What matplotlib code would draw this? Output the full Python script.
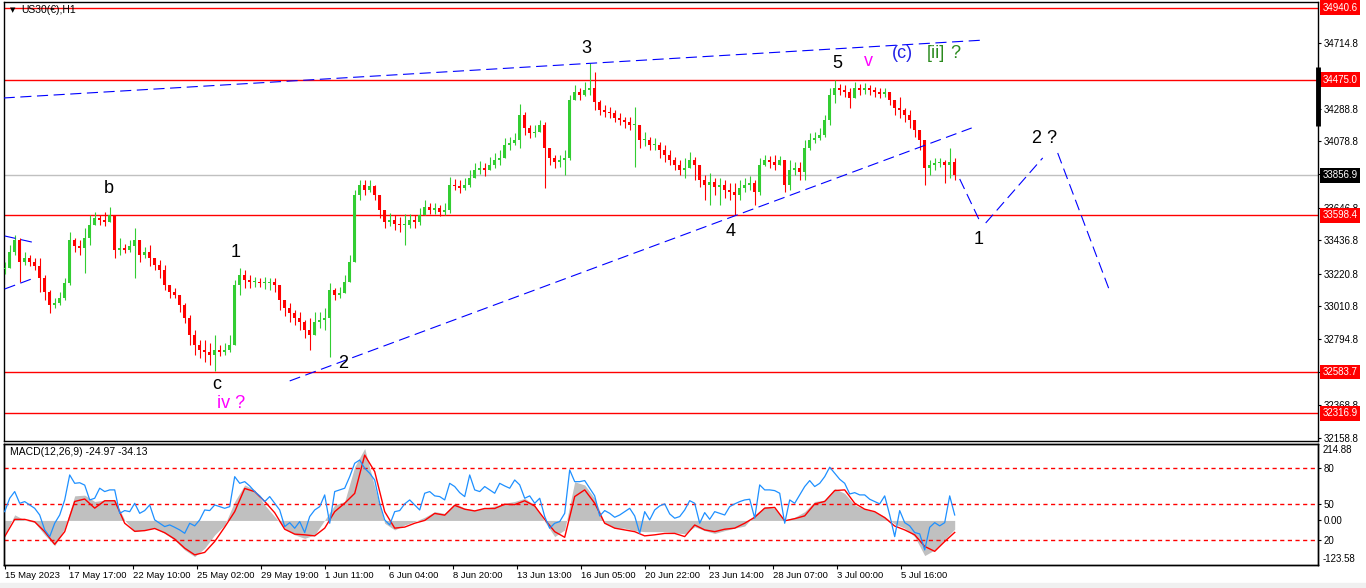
import numpy as np
import matplotlib
matplotlib.use('Agg')
import matplotlib.pyplot as plt
import matplotlib.transforms as mtrans
from matplotlib.patches import Rectangle

plt.rcParams['font.family'] = ['Liberation Sans', 'DejaVu Sans']

# US30 H1 candles, one candle per 5 hourly bars
first_open = 33250
close = [33257, 33360, 33438, 33296, 33322, 33296, 33270, 33193, 33102, 33017,
         33031, 33063, 33160, 33438, 33400, 33387, 33451, 33535, 33581, 33567,
         33554, 33600, 33373, 33387, 33373, 33400, 33438, 33341, 33360, 33322,
         33276, 33244, 33147, 33102, 33082, 33017, 32934, 32823, 32759, 32726,
         32713, 32694, 32726, 32713, 32726, 32759, 33147, 33212, 33179, 33166,
         33166, 33160, 33160, 33166, 33147, 33050, 32998, 32966, 32934, 32907,
         32856, 32823, 32907, 32920, 32934, 33115, 33082, 33096, 33166, 33296,
         33729, 33794, 33762, 33788, 33729, 33632, 33554, 33567, 33541, 33535,
         33535, 33567, 33554, 33600, 33651, 33632, 33645, 33619, 33632, 33794,
         33788, 33775, 33794, 33839, 33891, 33904, 33891, 33923, 33956, 33969,
         34053, 34066, 34085, 34247, 34163, 34131, 34137, 34182, 34034, 33969,
         33943, 33956, 33969, 34344, 34396, 34376, 34409, 34422, 34331, 34279,
         34266, 34260, 34227, 34214, 34201, 34182, 34182, 34085, 34085, 34053,
         34053, 34020, 33988, 33956, 33923, 33891, 33904, 33956, 33923, 33826,
         33794, 33813, 33781, 33794, 33762, 33749, 33729, 33775, 33794, 33807,
         33749, 33923, 33956, 33943, 33923, 33956, 33794, 33891, 33904, 33878,
         34034, 34085, 34098, 34117, 34214, 34376, 34422, 34409, 34396, 34357,
         34422, 34409, 34422, 34409, 34396, 34383, 34396, 34344, 34292, 34279,
         34247, 34214, 34150, 34085, 33904, 33923, 33936, 33943, 33923, 33943,
         33857]
high = [33296, 33406, 33470, 33451, 33360, 33341, 33322, 33322, 33212, 33115,
        33063, 33102, 33193, 33490, 33451, 33438, 33516, 33600, 33619, 33600,
        33619, 33651, 33600, 33451, 33412, 33438, 33516, 33406, 33393, 33406,
        33322, 33309, 33276, 33147, 33128, 33082, 33031, 32953, 32856, 32791,
        32791, 32772, 32823, 32759, 32772, 32823, 33179, 33257, 33244, 33212,
        33199, 33193, 33199, 33193, 33193, 33115, 33050, 33031, 32985, 32972,
        32920, 32934, 32972, 32972, 32998, 33160, 33128, 33134, 33212, 33341,
        33762, 33826, 33826, 33826, 33794, 33729, 33632, 33613, 33600, 33587,
        33606, 33606, 33600, 33645, 33697, 33678, 33678, 33664, 33678, 33846,
        33833, 33826, 33839, 33891, 33937, 33950, 33937, 33975, 34001, 34020,
        34098, 34104, 34131, 34318, 34266, 34182, 34182, 34214, 34201, 34034,
        33988, 33988, 34020, 34376, 34441, 34422, 34460, 34583, 34525, 34344,
        34312, 34299, 34279, 34260, 34234, 34234, 34299, 34150, 34137, 34104,
        34098, 34072, 34053, 34020, 33975, 33956, 33969, 34007, 33975, 33923,
        33859, 33872, 33839, 33839, 33826, 33807, 33807, 33826, 33839, 33852,
        33826, 33969, 33988, 33982, 33988, 33982, 33956, 33956, 33943, 33943,
        34085, 34131, 34137, 34163, 34247, 34422, 34473, 34447, 34441, 34422,
        34460, 34447, 34454, 34441, 34428, 34422, 34422, 34389, 34344, 34363,
        34292, 34279, 34201, 34150, 34053, 33956, 33969, 33969, 33956, 34034,
        33969]
low = [33218, 33257, 33341, 33166, 33276, 33270, 33244, 33102, 33050, 32966,
       32998, 33017, 33050, 33147, 33360, 33341, 33225, 33406, 33535, 33535,
       33529, 33554, 33322, 33341, 33354, 33360, 33193, 33296, 33322, 33270,
       33244, 33193, 33115, 33063, 33063, 32972, 32901, 32759, 32694, 32675,
       32648, 32629, 32590, 32688, 32694, 32713, 32791, 33082, 33128, 33128,
       33134, 33134, 33121, 33115, 33102, 32985, 32947, 32907, 32888, 32856,
       32804, 32726, 32843, 32869, 32856, 32681, 33050, 33063, 33102, 33212,
       33296, 33697, 33729, 33749, 33697, 33581, 33516, 33529, 33503, 33490,
       33406, 33516, 33516, 33535, 33600, 33606, 33606, 33594, 33600, 33613,
       33762, 33743, 33762, 33781, 33852, 33865, 33852, 33891, 33904, 33923,
       33988, 34020, 34053, 34034, 34117, 34098, 34104, 34137, 33775, 33923,
       33904, 33910, 33859, 33956, 34344, 34344, 34370, 34376, 34279, 34247,
       34234, 34227, 34201, 34182, 34163, 34150, 33910, 34034, 34046, 34020,
       34020, 33969, 33943, 33923, 33891, 33859, 33839, 33904, 33826, 33781,
       33697, 33664, 33729, 33664, 33710, 33697, 33600, 33697, 33749, 33762,
       33664, 33729, 33917, 33904, 33891, 33923, 33749, 33762, 33859, 33826,
       33826, 34020, 34066, 34085, 34104, 34182, 34325, 34376, 34363, 34292,
       34376, 34376, 34383, 34376, 34363, 34357, 34363, 34312, 34247, 34227,
       34201, 34163, 34104, 34020, 33794, 33859, 33891, 33910, 33807, 33839,
       33826]

# MACD(12,26,9): main and signal, one value per 10 bars
macd_main = [-40, 16, 1, -6, -41, -72, -22, 70, 72, 54,
             58, 60, 1, -32, -27, -22, -37, -56, -84, -103,
             -79, -41, -13, 54, 101, 87, 44, 11, -22, -41,
             -51, -41, 1, 44, 54, 153, 205, 96, -8, -27,
             -13, -3, 9, 25, 20, 49, 35, 30, 35, 41,
             49, 54, 63, 44, -3, -46, -27, 110, 101, 63,
             -8, -22, -22, -29, -32, -32, -32, -35, -38, -18,
             -29, -37, -29, -22, -16, 16, 39, 35, 1, 9,
             25, 54, 58, 91, 77, 44, 32, 25, 11, -10,
             -22, -46, -100, -84, -55, -24.97]
macd_signal = [-46, 3, 3, -4, -32, -68, -32, 54, 61, 35,
               56, 56, -8, -31, -29, -23, -35, -53, -79, -98,
               -91, -60, -19, 25, 91, 82, 54, 22, -25, -39,
               -41, -44, -22, 25, 49, 77, 186, 139, 25, -22,
               -19, -8, 0, 20, 15, 43, 32, 27, 34, 34,
               46, 45, 56, 41, 3, -32, -48, 68, 87, 49,
               -8, -22, -27, -32, -44, -41, -37, -37, -46, -13,
               -27, -32, -25, -22, -8, 9, 35, 37, -1, 5,
               13, 47, 54, 85, 87, 49, 32, 25, 8, -16,
               -27, -41, -74, -88, -60, -34.13]
# blue 0-100 oscillator drawn in the same window, one value per 5 bars
osc = [43.8, 55, 60.6, 50.8, 52.2, 49.4, 46.6, 41, 28.5, 22.9,
       34.1, 41, 53.6, 74.5, 67.5, 68, 66, 53.6, 55, 63.4,
       60.6, 62, 62, 42.4, 44.7, 43.8, 50.8, 42.4, 44.7, 49.4,
       36.9, 34.1, 31.3, 32.7, 30.7, 28.5, 25.7, 34.1, 31.9, 36.9,
       45.2, 44.7, 49.4, 48, 46.6, 48, 73.1, 67.5, 68.9, 65.3,
       60.6, 57, 52.2, 56.4, 50.8, 45.2, 31.3, 34.6, 29.9, 35.5,
       26.3, 39.7, 45.2, 48, 57.8, 34.1, 60.6, 62, 63.4, 73.1,
       84.3, 87, 80.1, 75.9, 70.3, 50.8, 36.9, 32.7, 43.8, 44.7,
       50.3, 53.6, 49.4, 45.2, 59.2, 60.6, 57, 56.4, 53.6, 67.5,
       64.8, 59.7, 56.4, 74.5, 62, 60.6, 64.8, 62, 59.2, 67.5,
       65.3, 63.4, 70.3, 66.2, 55, 57, 50.8, 55, 39.7, 29.9,
       34.1, 35.5, 42.4, 78.7, 68.9, 68.9, 69.8, 63.4, 57, 40.2,
       44.7, 42.4, 39.1, 41, 43.8, 46.6, 40.2, 25.7, 43.8, 36.9,
       45.2, 48.6, 50.3, 41.9, 38.3, 39.7, 45.2, 53, 50.8, 34.1,
       43, 37.4, 43.8, 42.4, 41, 48, 50.3, 52.2, 53.6, 54.2,
       38.3, 66.2, 62, 62, 61.4, 59.2, 34.1, 53.6, 50.8, 57.8,
       64.8, 69.8, 64.8, 67.5, 73.1, 81, 75.9, 70.9, 67.5, 58.6,
       59.7, 57.8, 57.8, 54.2, 52.2, 50.3, 57, 41, 22.9, 44.7,
       34.6, 31.9, 26.3, 25.2, 11.8, 30.7, 34.6, 31.9, 34.6, 57,
       41]
osc_levels = [20, 50, 80]

date_labels = ['15 May 2023', '17 May 17:00', '22 May 10:00', '25 May 02:00',
               '29 May 19:00', '1 Jun 11:00', '6 Jun 04:00', '8 Jun 20:00',
               '13 Jun 13:00', '16 Jun 05:00', '20 Jun 22:00', '23 Jun 14:00',
               '28 Jun 07:00', '3 Jul 00:00', '5 Jul 16:00']
price_ticks = [34714.8, 34501.8, 34288.8, 34078.8, 33862.8, 33646.8, 33436.8,
               33220.8, 33010.8, 32794.8, 32581.8, 32368.8, 32158.8]
# ticks whose label sits fully under a price box
hidden_ticks = [34501.8, 33862.8, 32581.8]
red_levels = [34940.6, 34475.0, 33598.4, 32583.7, 32316.9]
last_price = 33856.9

# dashed blue trend / projection lines: (bar, price) pairs
trend_lines = [((-1, 34357), (980, 34732)),
               ((285, 32526), (967, 34163)),
               ((0, 33464), (31, 33419)),
               ((0, 33121), (27, 33186)),
               ((955, 33833), (975, 33561)),
               ((981, 33548), (1038, 33969)),
               ((1053, 34001), (1105, 33108))]

wave_text = ['3', '5', 'b', '1', 'c', 'iv ?', '2', '4', '1', '2 ?', 'v', '(c)', '[ii]', '?']
wave_bar = [582, 833, 104, 231, 212, 226, 338, 726, 974, 1040, 864, 898, 931, 951]
wave_price = [34680, 34583, 33768, 33354, 32500, 32383, 32636, 33496, 33438, 34092,
              34595, 34642, 34642, 34642]
wave_color = ['black', 'black', 'black', 'black', 'black', '#ff00ff', 'black', 'black',
              'black', 'black', '#ff00ff', '#2323e6', '#2b8a1e', '#2b8a1e']

W, H = 1366, 588
fig = plt.figure(figsize=(W / 100, H / 100), dpi=100)
fig.patch.set_facecolor('white')
ax = fig.add_axes([4 / W, 147 / H, 1314 / W, 439 / H])
ax2 = fig.add_axes([4 / W, 23 / H, 1314 / W, 121 / H])
ax3 = ax2.twinx()

xlim = (-0.7, 1313.3)
green, red = '#32cd32', '#ff0000'

# candles
c = np.array(close, dtype=float)
o = np.array([first_open] + close[:-1], dtype=float)
hi = np.maximum(np.array(high, dtype=float), np.maximum(o, c))
lo = np.minimum(np.array(low, dtype=float), np.minimum(o, c))
xb = np.arange(len(c)) * 5
cols = np.where(c >= o, green, red)
ax.vlines(xb, lo, hi, colors=cols, lw=0.8, zorder=3)
ax.bar(xb, np.maximum(np.abs(c - o), 4), bottom=np.minimum(o, c), width=2.5,
       color=cols, lw=0, zorder=3)

for v in red_levels:
    ax.axhline(v, color=red, lw=1, zorder=2)
ax.axhline(last_price, color='#c0c0c0', lw=1, zorder=1)

for (x0, y0), (x1, y1) in trend_lines:
    ax.plot([x0, x1], [y0, y1], color='#0000ff', lw=0.8, dashes=(10, 5), zorder=4)

for t, xv, yv, col in zip(wave_text, wave_bar, wave_price, wave_color):
    ax.text(xv, yv, t, color=col, fontsize=13, ha='center', va='center', zorder=5)

ax.set_xlim(*xlim)
ax.set_ylim(32137.3, 34978)
ax.set_xticks([])
ax.yaxis.tick_right()
ax.set_yticks(price_ticks)
ax.set_yticklabels(['' if v in hidden_ticks else f'{v:.1f}' for v in price_ticks])
ax.tick_params(axis='y', direction='out', length=2.5, pad=1.5, labelsize=7,
               colors='black')

bt = mtrans.blended_transform_factory(ax.transAxes, ax.transData)
for v in red_levels:
    ax.text(1.0032, v, f'{v:.1f}', transform=bt, ha='left', va='center', color='white',
            fontsize=7, clip_on=False, zorder=6,
            bbox=dict(boxstyle='square,pad=0.25', fc=red, ec='none'))
ax.text(1.0032, last_price, f'{last_price:.1f}', transform=bt, ha='left', va='center',
        color='white', fontsize=7, clip_on=False, zorder=6,
        bbox=dict(boxstyle='square,pad=0.25', fc='black', ec='none'))
ax.plot([1.0, 1.0], [34557, 34176], transform=bt, color='black', lw=3.5,
        solid_capstyle='butt', clip_on=False, zorder=6)

ax.text(0.0049, 0.9815, '\u25bc', transform=ax.transAxes, fontsize=5,
        family='DejaVu Sans', ha='left', va='center')
ax.text(0.0129, 0.9815, 'US30(\u20ac),H1', transform=ax.transAxes, fontsize=7.5,
        ha='left', va='center')

# MACD window
xm = np.arange(len(macd_main)) * 10
ax2.fill_between(xm, 0, macd_main, color='#c0c0c0', lw=0, zorder=1)
ax2.plot(xm, macd_signal, color=red, lw=1, zorder=3)
ax2.set_xlim(*xlim)
ax2.set_ylim(-126.9, 217.6)

xo = np.arange(len(osc)) * 5
ax3.plot(xo, osc, color='#1e90ff', lw=0.9, zorder=4)
for lv in osc_levels:
    ax3.axhline(lv, color=red, lw=1, dashes=(3, 2.5), zorder=2)
ax3.set_ylim(-0.84, 100.4)
ax3.set_xlim(*xlim)
ax3.set_yticks(osc_levels)
ax3.set_yticklabels([str(v) for v in osc_levels])
ax3.tick_params(axis='y', direction='out', length=2.5, pad=1.5, labelsize=7)

ax2.yaxis.tick_right()
ax2.set_yticks([0])
ax2.set_yticklabels(['0.00'])
ax2.tick_params(axis='y', direction='out', length=2.5, pad=1.5, labelsize=7)
bt2 = mtrans.blended_transform_factory(ax2.transAxes, ax2.transData)
ax2.text(1.0036, 214.88, '214.88', transform=bt2, fontsize=7, ha='left', va='top',
         clip_on=False)
ax2.text(1.0036, -123.58, '-123.58', transform=bt2, fontsize=7, ha='left',
         va='bottom', clip_on=False)
ax2.text(0.0046, 0.934, 'MACD(12,26,9) -24.97 -34.13', transform=ax2.transAxes,
         fontsize=7.5, ha='left', va='center')

ax2.set_xticks(np.arange(len(date_labels)) * 64)
ax2.set_xticklabels(date_labels)
ax2.tick_params(axis='x', direction='out', length=3, pad=1.5, labelsize=6.8)
for lbl in ax2.get_xticklabels():
    lbl.set_ha('left')

for a in (ax, ax2, ax3):
    for s in a.spines.values():
        s.set_color('black')
        s.set_linewidth(1)

fig.patches.append(Rectangle((0, 0), 1, 5 / H, transform=fig.transFigure,
                             color='#f0f0f0', zorder=0))

fig.savefig('out.png', dpi=100)
